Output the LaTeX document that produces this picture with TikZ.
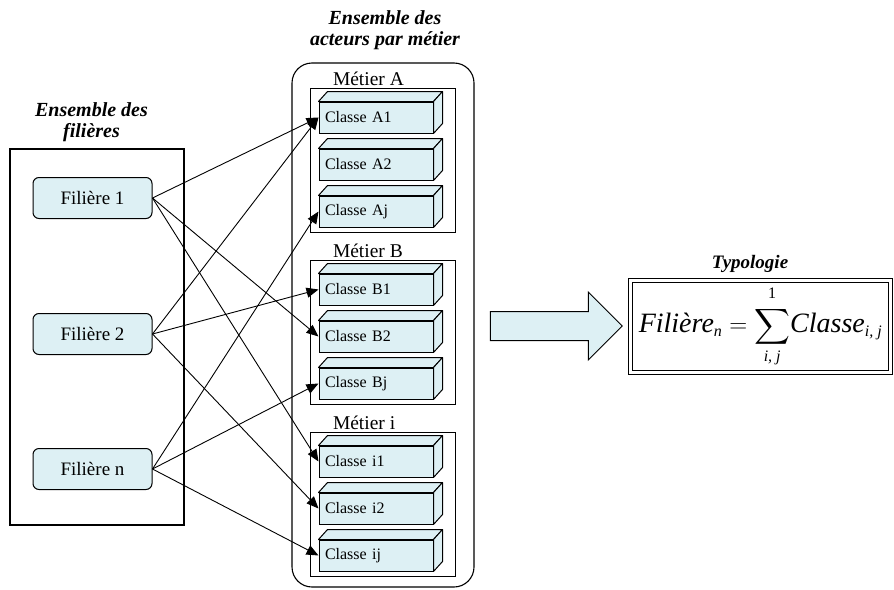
\documentclass[tikz,border=0pt]{standalone}
\usepackage{amsmath}
\usepackage{fontspec}
\setmainfont{Liberation Serif}
\usepackage{tikz}
\usetikzlibrary{positioning,arrows.meta,shapes.arrows}
\definecolor{fondbleu}{HTML}{DDF0F4}
\tikzset{
  titre/.style={align=center,inner sep=0pt,font=\fontsize{20}{21}\selectfont\bfseries\itshape},
  cadre/.style={draw,line width=1.1pt},
  filiere/.style={draw,rounded corners=6pt,fill=fondbleu,minimum width=119pt,minimum height=41pt,font=\fontsize{19}{22}\selectfont},
  metier/.style={draw,minimum width=145pt,minimum height=144pt},
  metlab/.style={anchor=base west,inner sep=0pt,font=\fontsize{19.5}{22}\selectfont},
  classe/.style={draw,fill=fondbleu,minimum width=114pt,minimum height=31pt,text width=102pt,align=left,inner sep=0pt,font=\fontsize{16}{18}\selectfont},
  face/.style={draw,fill=fondbleu,line join=round},
  fl/.style={-{Triangle[length=12pt,width=10pt]},line width=0.9pt},
}
\newcommand{\petit}[1]{\mbox{\fontsize{16}{16}\selectfont #1}}

\begin{document}
\begin{tikzpicture}[x=1pt,y=-1pt,line width=1pt]
\useasboundingbox (0,0) rectangle (894,589);
% filieres
\node[cadre, minimum width=174pt, minimum height=376pt] (filieres) at (97,337) {};
\node[titre] (tfil) at (91.5,122) {Ensemble des\\filières};
\node[filiere] (f1) at (92.5,198) {Filière 1};
\node[filiere, below=94pt of f1] (f2) {Filière 2};
\node[filiere, below=93pt of f2] (fn) {Filière n};
% acteurs par metier
\node[cadre, rounded corners=20pt, minimum width=182pt, minimum height=524pt] (acteurs) at (383,325) {};
\node[titre] (tact) at (385,30) {Ensemble des\\acteurs par métier};
\node[metier] (mA) at (382.5,160) {};
\node[metier, below=27pt of mA] (mB) {};
\node[metier, below=27pt of mB] (mI) {};
\node[metlab] at ([xshift=23pt,yshift=2pt]mA.north west) {Métier A};
\node[metlab] at ([xshift=23pt,yshift=2pt]mB.north west) {Métier B};
\node[metlab] at ([xshift=23pt,yshift=2pt]mI.north west) {Métier i};
\node[classe, below=14pt of mA.north, xshift=-6.5pt] (a1) {Classe A1};
\node[classe, below=15pt of a1] (a2) {Classe A2};
\node[classe, below=15pt of a2] (aj) {Classe Aj};
\node[classe, below=14pt of mB.north, xshift=-6.5pt] (b1) {Classe B1};
\node[classe, below=15pt of b1] (b2) {Classe B2};
\node[classe, below=15pt of b2] (bj) {Classe Bj};
\node[classe, below=14pt of mI.north, xshift=-6.5pt] (i1) {Classe i1};
\node[classe, below=15pt of i1] (i2) {Classe i2};
\node[classe, below=15pt of i2] (ij) {Classe ij};
\foreach \c in {a1,a2,aj,b1,b2,bj,i1,i2,ij}{
  \draw[face] (\c.north west) -- ++(9pt,10pt) -- ([shift={(9pt,10pt)}]\c.north east) -- (\c.north east) -- cycle;
  \draw[face] (\c.north east) -- ++(9pt,10pt) -- ([shift={(9pt,10pt)}]\c.south east) -- (\c.south east) -- cycle;
}
% liens
\draw[fl] (f1.east) -- (a1.west);
\draw[fl] (f1.east) -- (b2.west);
\draw[fl] (f1.east) -- (i1.west);
\draw[fl] (f2.east) -- (a1.west);
\draw[fl] (f2.east) -- (b1.west);
\draw[fl] (f2.east) -- (i2.west);
\draw[fl] (fn.east) -- (aj.west);
\draw[fl] (fn.east) -- (bj.west);
\draw[fl] (fn.east) -- (ij.west);
% typologie
\node[draw, fill=fondbleu, single arrow, single arrow head extend=19.5pt, inner sep=0pt, text height=14pt, text depth=14pt, minimum height=132pt] (fleche) at (549,326) {};
\node[titre, font=\fontsize{19}{21}\selectfont\bfseries\itshape] (ttyp) at (750,264) {Typologie};
\node[draw, double, double distance=2.5pt, line width=1pt, minimum width=260pt, minimum height=92pt, inner sep=0pt] (typo) at (760.5,326.5)
  {\fontsize{28}{30}\selectfont\itshape Filière$_{\petit{\itshape n}}$ $=\displaystyle\sum_{\petit{\itshape i, j}}^{\raisebox{3pt}{\petit{\upshape 1}}}$Classe$_{\petit{\itshape i, j}}$};
\end{tikzpicture}
\end{document}
